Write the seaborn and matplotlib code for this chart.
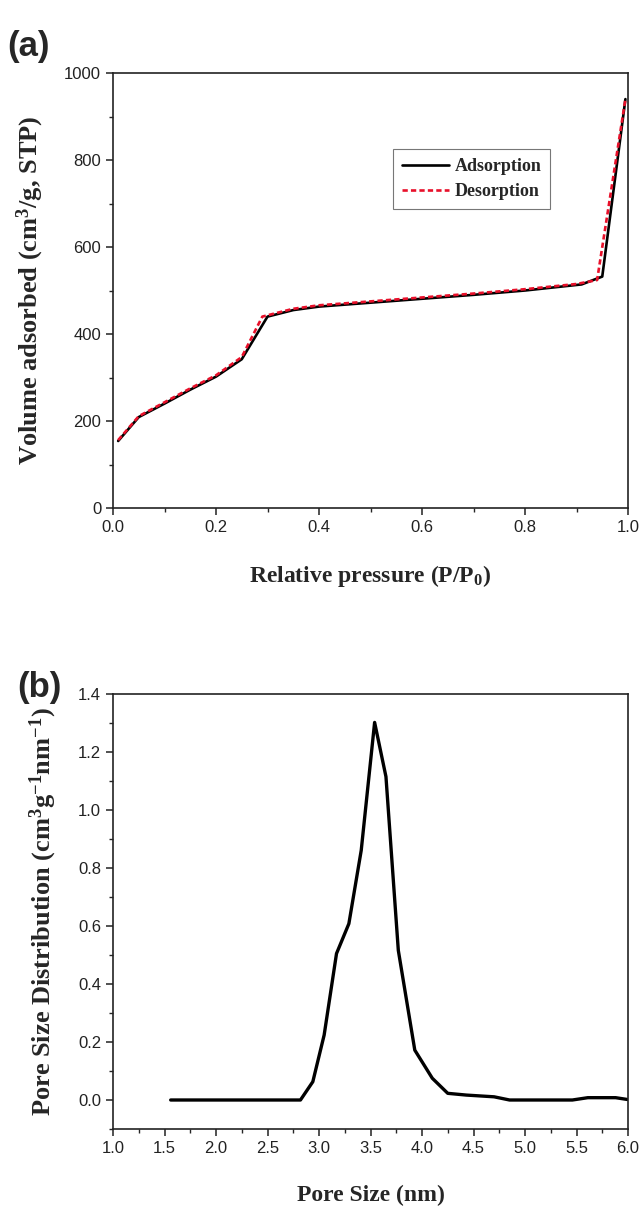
import numpy as np
import pandas as pd
import seaborn as sns
import matplotlib.pyplot as plt
from matplotlib.ticker import MultipleLocator

# (a) N2 adsorption / desorption isotherm
ads_p = [0.01, 0.05, 0.10, 0.15, 0.20, 0.25, 0.30, 0.35, 0.40, 0.50, 0.60, 0.70, 0.80, 0.91, 0.95, 0.995]
ads_v = [154, 209, 240, 272, 302, 342, 440, 455, 463, 472, 481, 490, 500, 514, 532, 940]
des_p = [0.01, 0.05, 0.10, 0.15, 0.20, 0.25, 0.29, 0.35, 0.40, 0.50, 0.60, 0.70, 0.80, 0.90, 0.94, 0.995]
des_v = [156, 211, 243, 275, 305, 347, 440, 458, 466, 475, 484, 493, 503, 515, 524, 940]

# (b) pore size distribution
pore_size = [1.56, 2.82, 2.94, 3.05, 3.17, 3.29, 3.41, 3.54, 3.65, 3.77, 3.93, 4.10, 4.25,
             4.43, 4.70, 4.85, 5.46, 5.61, 5.88, 5.99]
pore_dist = [0.0, 0.0, 0.063, 0.224, 0.505, 0.608, 0.861, 1.302, 1.115, 0.516, 0.172, 0.075, 0.023,
             0.017, 0.011, 0.0, 0.0, 0.008, 0.008, 0.002]

sns.set_style("ticks")
plt.rcParams['font.family'] = ['Liberation Sans', 'DejaVu Sans']
plt.rcParams['mathtext.fontset'] = 'custom'
plt.rcParams['mathtext.bf'] = 'Liberation Serif:bold'
plt.rcParams['mathtext.rm'] = 'Liberation Serif:bold'
plt.rcParams['mathtext.default'] = 'bf'

iso = pd.concat([
    pd.DataFrame({'p': ads_p, 'v': ads_v, 'branch': 'Adsorption'}),
    pd.DataFrame({'p': des_p, 'v': des_v, 'branch': 'Desorption'}),
])
psd = pd.DataFrame({'size': pore_size, 'dist': pore_dist})

fig = plt.figure(figsize=(6.44, 12.07), dpi=100)
W, H = 644, 1207
ax1 = fig.add_axes([113 / W, 1 - 508 / H, 515 / W, 435 / H])
ax2 = fig.add_axes([113 / W, 1 - 1129 / H, 515 / W, 435 / H])

sns.lineplot(data=iso, x='p', y='v', hue='branch', style='branch',
             palette={'Adsorption': 'black', 'Desorption': '#e8102a'},
             dashes={'Adsorption': '', 'Desorption': (2, 1.2)},
             linewidth=1.9, sort=False, ax=ax1)
sns.lineplot(data=psd, x='size', y='dist', color='black', linewidth=2.4, sort=False, ax=ax2)

xlabel_font = dict(family='Liberation Serif', weight='bold', size=17)
ylabel_font = dict(family='Liberation Serif', weight='bold', size=19)

ax1.set_xlim(0, 1.0)
ax1.set_ylim(0, 1000)
ax1.xaxis.set_major_locator(MultipleLocator(0.2))
ax1.xaxis.set_minor_locator(MultipleLocator(0.1))
ax1.yaxis.set_major_locator(MultipleLocator(200))
ax1.yaxis.set_minor_locator(MultipleLocator(100))
ax1.set_xlabel('Relative pressure (P/P$_0$)', fontdict=xlabel_font, labelpad=20)
ax1.set_ylabel('Volume adsorbed (cm$^3$/g, STP)', fontdict=ylabel_font, labelpad=13)

leg = ax1.legend(loc='upper left', bbox_to_anchor=(0.544, 0.825), borderaxespad=0,
                 frameon=True, fancybox=False, edgecolor='#555555', handlelength=2.6,
                 handletextpad=0.3, borderpad=0.5, labelspacing=0.45,
                 prop=dict(family='Liberation Serif', weight='bold', size=13))
leg.get_frame().set_linewidth(0.8)

ax2.set_xlim(1.0, 6.0)
ax2.set_ylim(-0.1, 1.4)
ax2.xaxis.set_major_locator(MultipleLocator(0.5))
ax2.xaxis.set_minor_locator(MultipleLocator(0.25))
ax2.yaxis.set_major_locator(MultipleLocator(0.2))
ax2.yaxis.set_minor_locator(MultipleLocator(0.1))
ax2.set_xlabel('Pore Size (nm)', fontdict=xlabel_font, labelpad=21)
ax2.set_ylabel('Pore Size Distribution (cm$^3$g$^{-1}$nm$^{-1}$)', fontdict=ylabel_font, labelpad=14)

for ax in (ax1, ax2):
    for s in ax.spines.values():
        s.set_linewidth(1.2)
        s.set_color('#222222')
    ax.tick_params(which='major', direction='out', length=5, width=1.1, labelsize=12, colors='#222222')
    ax.tick_params(which='minor', direction='out', length=3, width=1.0)

fig.text(7 / W, 1 - 56 / H, '(a)', fontsize=25, fontweight='bold')
fig.text(17 / W, 1 - 697 / H, '(b)', fontsize=25, fontweight='bold')

fig.savefig('out.png', dpi=100)
